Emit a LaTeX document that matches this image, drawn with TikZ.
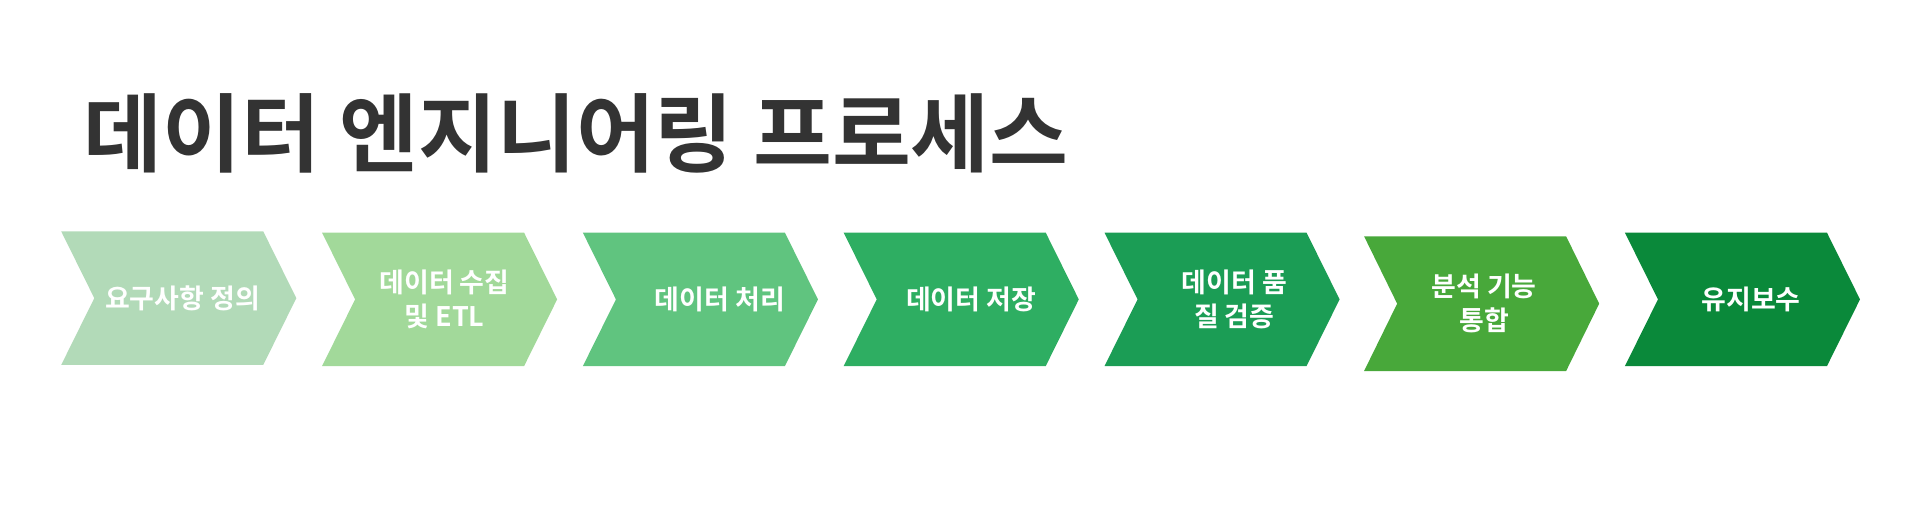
\documentclass[tikz,border=0pt]{standalone}
\usepackage{fontspec}
\setmainfont{Noto Sans CJK KR}[BoldFont={* Bold}]
\begin{document}
\begin{tikzpicture}[x=1pt,y=-1pt,
  lbl/.style={text=white,font=\bfseries\fontsize{22}{28}\selectfont,align=center}]
\useasboundingbox (0,0) rectangle (1568,417);
\node[anchor=base west,text=black!80,font=\bfseries\fontsize{70}{78}\selectfont,inner sep=0] (title) at (68,135) {데이터 엔지니어링 프로세스};
\definecolor{c1}{HTML}{B2DAB8}
\definecolor{c2}{HTML}{A2D99A}
\definecolor{c3}{HTML}{60C47F}
\definecolor{c4}{HTML}{2EAE62}
\definecolor{c5}{HTML}{1B9D55}
\definecolor{c6}{HTML}{48A83A}
\definecolor{c7}{HTML}{0A893A}
\foreach \i/\x/\t/\b/\c/\cx/\txt in {1/50/189/298/c1/149/요구사항 정의,2/263/190/299/c2/363/데이터 수집\\및 ETL,3/476/190/299/c3/588/데이터 처리,4/689/190/299/c4/793/데이터 저장,5/902/190/299/c5/1008/데이터 품\\질 검증,6/1114/193/303/c6/1212/분석 기능\\통합,7/1327/190/299/c7/1430/유지보수}{
  \pgfmathsetmacro\m{(\t+\b)/2}
  \fill[\c] (\x,\t) -- (\x+165,\t) -- (\x+192,\m) -- (\x+165,\b) -- (\x,\b) -- (\x+27,\m) -- cycle;
  \node[lbl] (s\i) at (\cx,\m) {\txt};
}
\end{tikzpicture}
\end{document}
